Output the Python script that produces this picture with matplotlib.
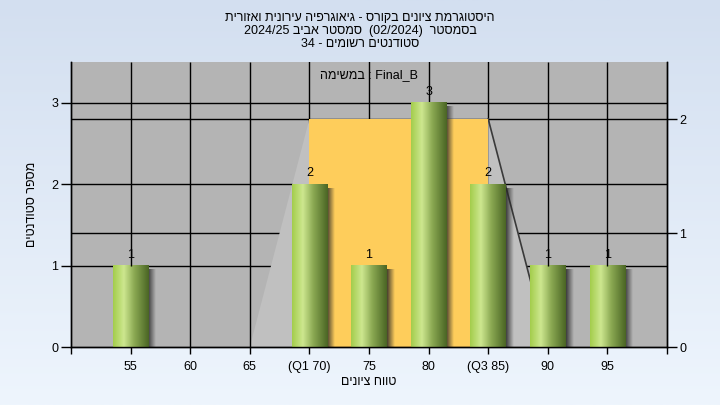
import numpy as np
import matplotlib
matplotlib.use("Agg")
import matplotlib.pyplot as plt
from matplotlib.colors import LinearSegmentedColormap
from matplotlib.patches import Polygon, Rectangle

# data
grades = [55, 60, 65, 70, 75, 80, 85, 90, 95]
tick_labels = ["55", "60", "65", "(Q1 70)", "75", "80", "(Q3 85)", "90", "95"]
counts = [1, 0, 0, 2, 1, 3, 2, 1, 1]
q1_grade, q3_grade = 70, 85
whisker_lo, whisker_hi = 65, 90
box_height = 2          # in right-axis units

title_lines = [
    "היסטוגרמת ציונים בקורס - גיאוגרפיה עירונית ואזורית",
    "בסמסטר  (02/2024)  סמסטר אביב 2024/25",
    "סטודנטים רשומים - 34",
]
task_word = "במשימה"
task_name = "Final_B"
xlabel = "טווח ציונים"
ylabel = "מספר סטודנטים"

FONT = ["Liberation Sans", "DejaVu Sans"]
plt.rcParams["font.family"] = FONT


def is_heb(tok):
    return any("\u0590" <= c <= "\u05ff" for c in tok)


def vis(s):
    # crude logical -> visual order for an RTL line
    toks = s.split(" ")[::-1]
    return " ".join(t[::-1] if is_heb(t) else t for t in toks)


fig = plt.figure(figsize=(7.2, 4.05), dpi=100)

# background gradient
bg = fig.add_axes([0, 0, 1, 1], zorder=-10)
bg_cmap = LinearSegmentedColormap.from_list("bg", ["#d3dff0", "#eef5fd"])
bg.imshow(np.linspace(0, 1, 256).reshape(-1, 1), cmap=bg_cmap, aspect="auto",
          extent=[0, 1, 0, 1])
bg.set_axis_off()

ax = fig.add_axes([0.0986, 0.1432, 0.8278, 0.7037])
ax.set_facecolor("#b4b4b4")
ax2 = ax.twinx()

x = np.arange(len(grades))
ax.set_xlim(-1, len(grades))
ax.set_ylim(0, 3.5)
ax2.set_ylim(0, 2.5)

left_ticks = [0, 1, 2, 3]
right_ticks = [0, 1, 2]
ax.set_yticks(left_ticks)
ax2.set_yticks(right_ticks)

# horizontal grid (left and right axis)
for v in left_ticks[1:]:
    ax.axhline(v, color="black", lw=1, zorder=1)
for v in right_ticks[1:]:
    ax.plot([0, 1], [v, v], color="black", lw=1, zorder=1,
            transform=ax2.get_yaxis_transform())

i_q1 = grades.index(q1_grade)
i_q3 = grades.index(q3_grade)
i_lo = grades.index(whisker_lo)
i_hi = grades.index(whisker_hi)

# vertical grid
for i in x:
    if i_q1 <= i <= i_q3:
        ax.axvline(i, color="black", lw=1, zorder=1)
    else:
        ax.plot([i, i], [counts[i], 3.5], color="black", lw=1, zorder=4.5,
                solid_capstyle="butt")

# box + whiskers (right axis units)
t2 = ax2.transData
ax.add_patch(Polygon([[i_lo, 0], [i_q1, box_height], [i_q1, 0]], closed=True,
                     facecolor="#c0c0c0", edgecolor="none", zorder=2, transform=t2))
ax.add_patch(Polygon([[i_q3, 0], [i_q3, box_height], [i_hi, 0]], closed=True,
                     facecolor="#c0c0c0", edgecolor="none", zorder=2, transform=t2))
ax.plot([i_q3, i_hi], [box_height, 0], color="#3a3a3a", lw=1.2, zorder=2.1,
        transform=t2)
ax.add_patch(Rectangle((i_q1, 0), i_q3 - i_q1, box_height, facecolor="#fecd5b",
                       edgecolor="none", zorder=2.2, transform=t2))

# cylinder-like bars
bar_cmap = LinearSegmentedColormap.from_list(
    "bar", [(0, "#a3cd4c"), (0.3, "#cde78f"), (0.6, "#8aa852"), (1, "#4a6524")])
shadow = np.zeros((1, 32, 4))
shadow[..., :3] = 0.15
shadow[..., 3] = np.linspace(0.85, 0.0, 32)
grad = np.linspace(0, 1, 128).reshape(1, -1)
w = 0.6
for i, c in zip(x, counts):
    if c == 0:
        continue
    ax.imshow(shadow, aspect="auto", interpolation="bilinear", zorder=2.9,
              extent=[i + w / 2, i + w / 2 + 0.13, 0, c - 0.05])
    ax.imshow(grad, cmap=bar_cmap, aspect="auto", interpolation="bilinear",
              zorder=3, extent=[i - w / 2, i + w / 2, 0, c])
    ax.text(i, c + 0.06, str(c), ha="center", va="bottom", fontsize=9,
            color="black", zorder=4)

ax.set_xlim(-1, len(grades))
ax.set_ylim(0, 3.5)

ax.set_xticks(x)
ax.set_xticklabels(tick_labels)
ax.set_xticks([-1, len(grades)], minor=True)
ax.tick_params(axis="x", which="both", direction="out", length=5, width=1,
               pad=5, labelsize=9)
ax.tick_params(axis="y", direction="out", length=7, width=1, pad=2, labelsize=9)
ax2.tick_params(axis="y", direction="out", length=7, width=1, pad=2, labelsize=9)

for a in (ax, ax2):
    a.spines["top"].set_visible(False)
    for s in ("left", "right", "bottom"):
        a.spines[s].set_color("black")
        a.spines[s].set_linewidth(1)

ax.set_xlabel(vis(xlabel), fontsize=9, labelpad=2)
ax.set_ylabel(vis(ylabel), fontsize=9, labelpad=10)

ax.text(0.5, 0.955, task_word[::-1] + " : " + task_name, transform=ax.transAxes,
        ha="center", va="center", fontsize=9, zorder=6)

for k, line in enumerate(title_lines):
    fig.text(0.5, 1 - (18 + 13 * k) / 405, vis(line), ha="center", va="center",
             fontsize=9)

fig.savefig("out.png", dpi=100)
